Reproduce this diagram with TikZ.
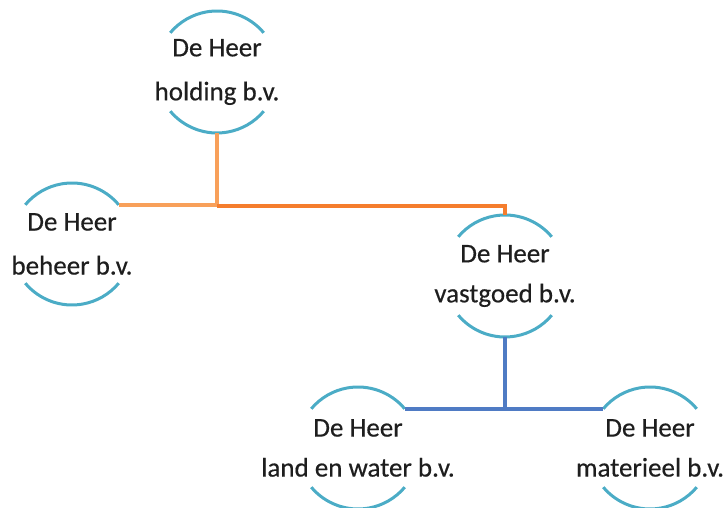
\documentclass[tikz,border=0pt]{standalone}
\usepackage{fontspec}
\setmainfont{Carlito}
\newfontfamily\orgfont{Carlito}[FakeBold=0.4]
\definecolor{arcblue}{RGB}{75,172,198}
\definecolor{orL}{RGB}{248,160,90}
\definecolor{orD}{RGB}{245,125,45}
\definecolor{lineblue}{RGB}{79,123,196}
\definecolor{txt}{RGB}{30,30,30}
\begin{document}
\begin{tikzpicture}[x=1pt,y=1pt,
  org/.style={align=center,text=txt,inner sep=0pt,font=\orgfont\fontsize{27}{44}\selectfont},
  orgb/.style={org,font=\orgfont\fontsize{27}{40}\selectfont},
  ring/.style={draw=arcblue,line width=3pt},
  orline/.style={line width=3.6pt},
  blline/.style={draw=lineblue,line width=4.2pt}]
\useasboundingbox (0,0) rectangle (725,508);
% nodes (y = 508 - pixel y)
\node[org]  (hold) at (217,436) {De Heer\\holding b.v.};
\node[org]  (beh)  at (72,264)  {De Heer\\beheer b.v.};
\node[orgb] (vast) at (505,232) {De Heer\\vastgoed b.v.};
\node[orgb] (land) at (358,60)  {De Heer\\land en water b.v.};
\node[orgb] (mat)  at (650,60)  {De Heer\\materieel b.v.};
% rings
\foreach \n in {hold,beh,vast,land,mat}{
  \draw[ring] ([shift={(40:61)}]\n.center) arc (40:140:61);
  \draw[ring] ([shift={(220:61)}]\n.center) arc (220:320:61);
}
% anchor points
\coordinate (holdB) at ([shift={(270:61)}]hold.center);
\coordinate (behR)  at ([shift={(40:61)}]beh.center);
\coordinate (vastT) at ([shift={(90:61)}]vast.center);
\coordinate (vastB) at ([shift={(270:61)}]vast.center);
\coordinate (landR) at ([shift={(40:61)}]land.center);
\coordinate (matL)  at ([shift={(140:61)}]mat.center);
\coordinate (jO) at (holdB |- behR);
\coordinate (jV) at (vastT |- behR);
\coordinate (jB) at (vastB |- landR);
% orange connectors
\draw[orline,draw=orL] (holdB) -- (jO);
\draw[orline,draw=orL] (behR) -- (jO);
\draw[orline,draw=orD] ([yshift=-1.5pt]jO) -- ([yshift=-1.5pt,xshift=2pt]jV);
\draw[orline,draw=orD] ([yshift=-1.5pt]jV) -- (vastT);
% blue connectors
\draw[blline] (vastB) -- (jB);
\draw[blline] (landR) -- (matL);
\end{tikzpicture}
\end{document}
